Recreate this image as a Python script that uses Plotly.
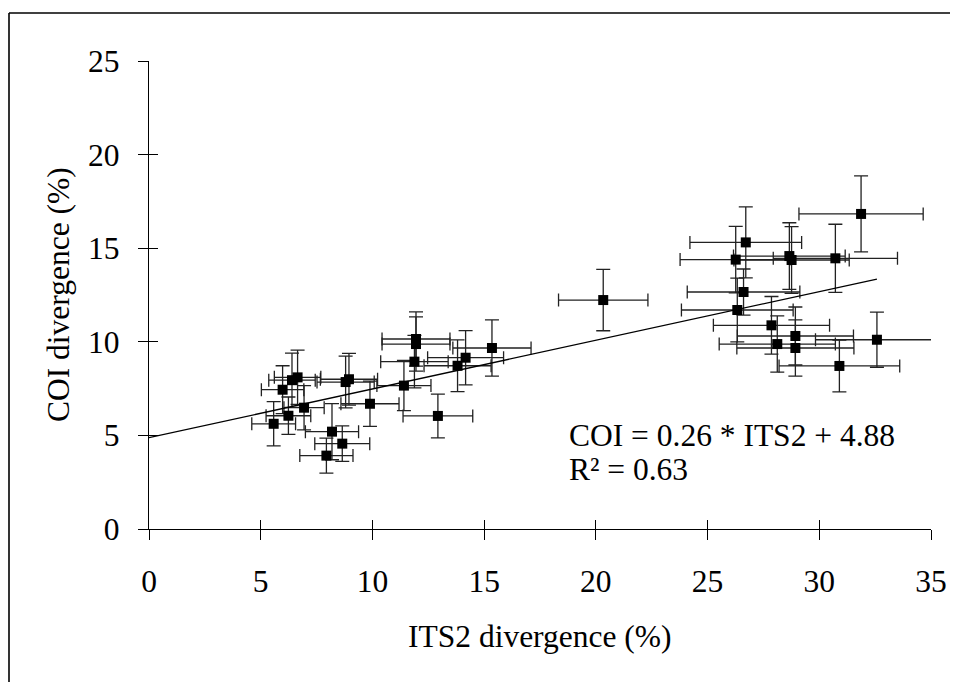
import plotly.graph_objects as go

# ITS2 divergence (%) and COI divergence (%) with their error ranges
its2 = [31.87, 26.71, 26.26, 28.66, 28.76, 30.72, 26.61, 26.33, 27.86, 28.93,
        28.12, 28.93, 32.58, 30.90, 20.33,
        11.95, 11.95, 11.88, 15.35, 14.17, 13.81, 11.41, 12.93, 9.89, 8.80,
        8.95, 6.40, 6.65, 5.98, 6.94, 6.24, 5.58, 8.19, 8.65, 7.94]
coi = [16.83, 15.31, 14.39, 14.58, 14.37, 14.46, 12.66, 11.70, 10.88, 10.31,
       9.88, 9.67, 10.11, 8.71, 12.23,
       10.15, 9.88, 8.94, 9.67, 9.15, 8.72, 7.66, 6.04, 6.69, 7.85,
       8.00, 7.95, 8.10, 7.44, 6.48, 6.05, 5.62, 5.20, 4.56, 3.92]
its2_err = [2.78, 2.50, 2.49, 2.50, 2.58, 2.78, 2.52, 2.50, 2.60, 2.60,
            2.60, 2.62, 2.75, 2.70, 2.00,
            1.52, 1.52, 1.51, 1.75, 1.70, 1.50, 1.21, 1.56, 1.30, 1.28,
            1.28, 1.04, 1.04, 0.95, 0.90, 1.00, 0.98, 1.19, 1.23, 1.19]
coi_err = [2.03, 1.90, 1.78, 1.78, 1.78, 1.82, 1.23, 1.70, 1.54, 1.55,
           1.50, 1.50, 1.47, 1.38, 1.64,
           1.45, 1.45, 1.40, 1.50, 1.45, 1.38, 1.34, 1.17, 1.21, 1.38,
           1.38, 1.45, 1.45, 1.28, 1.18, 1.00, 1.18, 1.50, 0.95, 0.93]

# regression: COI = 0.26 * ITS2 + 4.88, R² = 0.63
slope = 0.26
intercept = 4.88
r2 = 0.63
fit_x = [0, max(its2)]
fit_y = [slope * v + intercept for v in fit_x]

x_ticks = [0, 5, 10, 15, 20, 25, 30, 35]
y_ticks = [0, 5, 10, 15, 20, 25]

FONT = "Liberation Serif, Times New Roman, serif"
FS = 31.5

fig = go.Figure()

fig.add_trace(go.Scatter(
    x=fit_x, y=fit_y, mode="lines",
    line=dict(color="black", width=1.3),
    xaxis="x2", yaxis="y2", showlegend=False, hoverinfo="skip"))

fig.add_trace(go.Scatter(
    x=its2, y=coi, mode="markers",
    marker=dict(symbol="square", size=10, color="black"),
    error_x=dict(type="data", array=its2_err, visible=True,
                 color="#222222", thickness=1.3, width=6.5),
    error_y=dict(type="data", array=coi_err, visible=True,
                 color="#222222", thickness=1.3, width=7),
    showlegend=False))

axis_common = dict(showgrid=False, zeroline=False, automargin=False)

# the page body adds an 8 px offset, so the figure is 8 px smaller
fig.update_layout(
    width=950, height=674,
    margin=dict(l=141, r=27, t=53, b=153, pad=0),
    paper_bgcolor="white", plot_bgcolor="white",
    font=dict(family=FONT, size=FS, color="black"),
    xaxis=dict(range=[0, 35], tickvals=x_ticks, ticktext=[str(v) for v in x_ticks],
               ticks="outside", ticklen=10, tickwidth=1, tickcolor="black",
               showline=True, linecolor="black", linewidth=1.3,
               ticklabelstandoff=14,
               tickfont=dict(family=FONT, size=FS, color="black"),
               **axis_common),
    yaxis=dict(range=[0, 25], tickvals=y_ticks, ticktext=[str(v) for v in y_ticks],
               ticks="outside", ticklen=10, tickwidth=1, tickcolor="black",
               showline=True, linecolor="black", linewidth=1.3,
               ticklabelstandoff=12,
               tickfont=dict(family=FONT, size=FS, color="black"),
               **axis_common),
    xaxis2=dict(range=[0, 35], tickvals=x_ticks, overlaying="x",
                ticks="inside", ticklen=9, tickwidth=1, tickcolor="black",
                showticklabels=False, showline=False, side="bottom",
                **axis_common),
    yaxis2=dict(range=[0, 25], tickvals=y_ticks, overlaying="y",
                ticks="inside", ticklen=9, tickwidth=1, tickcolor="black",
                showticklabels=False, showline=False, side="left",
                **axis_common),
)

# outer frame: only its top and left edges fall inside the picture
frame_left = (9 - 149) / 782
frame_top = (529 - 13) / 468
fig.add_shape(type="line", xref="paper", yref="paper",
              x0=frame_left, x1=(1000 - 149) / 782, y0=frame_top, y1=frame_top,
              line=dict(color="black", width=1.6), layer="above")
fig.add_shape(type="line", xref="paper", yref="paper",
              x0=frame_left, x1=frame_left, y0=frame_top, y1=(529 - 720) / 468,
              line=dict(color="black", width=1.6), layer="above")

fig.add_annotation(text="ITS2 divergence (%)", xref="paper", yref="paper",
                   x=0.5, y=(529 - 636) / 468, xanchor="center", yanchor="middle",
                   showarrow=False, font=dict(family=FONT, size=FS, color="black"))
fig.add_annotation(text="COI divergence (%)", xref="paper", yref="paper",
                   x=(58 - 149) / 782, y=0.5, xanchor="center", yanchor="middle",
                   textangle=-90, showarrow=False,
                   font=dict(family=FONT, size=FS, color="black"))
fig.add_annotation(text=f"COI = {slope:.2f} * ITS2 + {intercept:.2f}",
                   xref="paper", yref="paper",
                   x=(567 - 149) / 782, y=(529 - 435) / 468,
                   xanchor="left", yanchor="middle", showarrow=False,
                   font=dict(family=FONT, size=FS, color="black"))
fig.add_annotation(text=f"R² = {r2:.2f}",
                   xref="paper", yref="paper",
                   x=(567 - 149) / 782, y=(529 - 469) / 468,
                   xanchor="left", yanchor="middle", showarrow=False,
                   font=dict(family=FONT, size=FS, color="black"))

fig.write_html("out.html")
